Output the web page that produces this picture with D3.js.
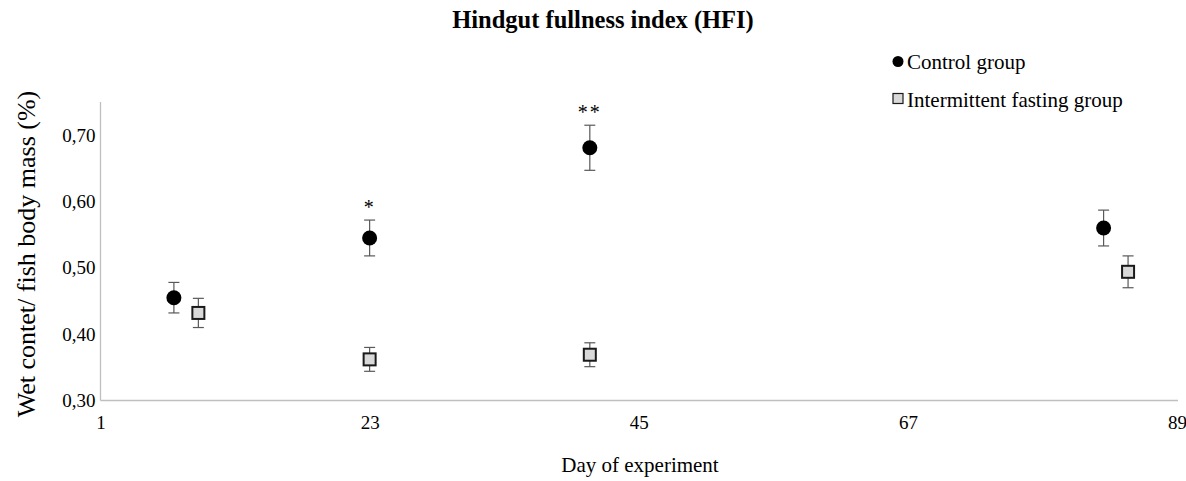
<!DOCTYPE html>
<html>
<head>
<meta charset="utf-8">
<script src="https://cdn.jsdelivr.net/npm/d3@7"></script>
<style>
  html, body { margin: 0; padding: 0; background: #fff; }
  svg text { font-family: "Liberation Serif", "Times New Roman", serif !important; fill: #000; }
</style>
</head>
<body>
<svg id="chart" width="1186" height="481"></svg>
<script>
// Hindgut fullness index: mean ± SE per sampling day
const controlDays  = [7, 23, 41, 83];
const controlMeans = [0.455, 0.545, 0.681, 0.560];
const controlErr   = [0.023, 0.027, 0.034, 0.027];

const fastingDays  = [9, 23, 41, 85];
const fastingMeans = [0.432, 0.362, 0.369, 0.494];
const fastingErr   = [0.022, 0.018, 0.018, 0.024];

const significance = ["", "*", "**", ""];

const xTicks = [1, 23, 45, 67, 89];
const yTicks = [0.30, 0.40, 0.50, 0.60, 0.70];

const serif = "'Liberation Serif', 'Times New Roman', serif";
const svg = d3.select("#chart");
const plotLeft = 100.5, plotRight = 1178, plotTop = 102, plotBottom = 400.5;

const x = d3.scaleLinear().domain([1, 89]).range([plotLeft, plotRight - 1]);
const y = d3.scaleLinear().domain([0.30, 0.75]).range([plotBottom, plotTop]);

// axes
const axisColor = "#bfbfbf";
const xAxis = svg.append("g").attr("transform", `translate(0,${plotBottom})`)
  .call(d3.axisBottom(x).tickValues(xTicks).tickSize(0).tickPadding(15).tickFormat(d3.format("d")));
xAxis.attr("font-family", serif).attr("font-size", 19);
xAxis.select(".domain").attr("stroke", axisColor).attr("stroke-width", 1.3).attr("d", `M${plotLeft},0H${plotRight}`);
xAxis.selectAll("text").style("font-family", serif).style("font-size", "19px").attr("fill", "#000");

const yAxis = svg.append("g").attr("transform", `translate(${plotLeft},0)`)
  .call(d3.axisLeft(y).tickValues(yTicks).tickSize(0).tickPadding(5).tickFormat(d => d3.format(".2f")(d).replace(".", ",")));
yAxis.attr("font-family", serif).attr("font-size", 19);
yAxis.select(".domain").attr("stroke", axisColor).attr("stroke-width", 1.3).attr("d", `M0,${plotTop}V${plotBottom}`);
yAxis.selectAll("text").style("font-family", serif).style("font-size", "19px").attr("fill", "#000");

// titles
svg.append("text").attr("x", 603).attr("y", 28).attr("text-anchor", "middle")
  .style("font-family", serif).style("font-size", "24.5px").attr("font-weight", "bold")
  .text("Hindgut fullness index (HFI)");
svg.append("text").attr("x", 640).attr("y", 472).attr("text-anchor", "middle")
  .style("font-family", serif).style("font-size", "21px").text("Day of experiment");
svg.append("text").attr("transform", "translate(35,254) rotate(-90)").attr("text-anchor", "middle")
  .style("font-family", serif).style("font-size", "26px").text("Wet contet/ fish body mass (%)");

// error bars
function errorBars(days, means, errs) {
  const g = svg.append("g").attr("stroke", "#595959").attr("stroke-width", 1.2);
  days.forEach((d, i) => {
    const cx = x(d), y1 = y(means[i] + errs[i]), y0 = y(means[i] - errs[i]);
    g.append("line").attr("x1", cx).attr("x2", cx).attr("y1", y1).attr("y2", y0);
    g.append("line").attr("x1", cx - 5.5).attr("x2", cx + 5.5).attr("y1", y1).attr("y2", y1);
    g.append("line").attr("x1", cx - 5.5).attr("x2", cx + 5.5).attr("y1", y0).attr("y2", y0);
  });
}
errorBars(controlDays, controlMeans, controlErr);
errorBars(fastingDays, fastingMeans, fastingErr);

// control group markers
svg.append("g").selectAll("circle").data(controlDays).join("circle")
  .attr("cx", d => x(d)).attr("cy", (d, i) => y(controlMeans[i])).attr("r", 7.5).attr("fill", "#000");

// intermittent fasting markers
svg.append("g").selectAll("rect").data(fastingDays).join("rect")
  .attr("x", d => x(d) - 6).attr("y", (d, i) => y(fastingMeans[i]) - 6)
  .attr("width", 12).attr("height", 12)
  .attr("fill", "#d9d9d9").attr("stroke", "#1a1a1a").attr("stroke-width", 2);

// significance stars
svg.append("g").selectAll("text").data(controlDays).join("text")
  .attr("x", d => x(d)).attr("y", (d, i) => y(controlMeans[i] + controlErr[i]) - 6)
  .attr("text-anchor", "middle").style("font-family", serif).style("font-size", "20px")
  .attr("letter-spacing", 2)
  .text((d, i) => significance[i]);

// legend
const lg = svg.append("g");
lg.append("circle").attr("cx", 898).attr("cy", 61.5).attr("r", 5.5).attr("fill", "#000");
lg.append("text").attr("x", 907).attr("y", 69).style("font-family", serif).style("font-size", "21px")
  .text("Control group");
lg.append("rect").attr("x", 893).attr("y", 93.5).attr("width", 10).attr("height", 10)
  .attr("fill", "#d9d9d9").attr("stroke", "#1a1a1a").attr("stroke-width", 1.2);
lg.append("text").attr("x", 907).attr("y", 107).style("font-family", serif).style("font-size", "21px")
  .text("Intermittent fasting group");
</script>
</body>
</html>
